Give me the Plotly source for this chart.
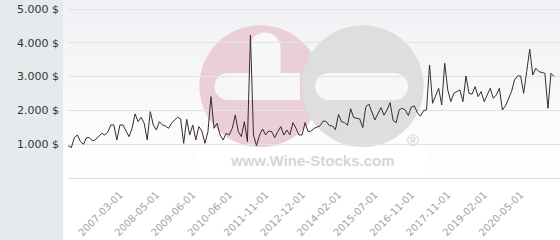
import plotly.graph_objects as go

# ---- data ----
prices = [
    957, 898, 1194, 1273, 1075, 997, 1194, 1194, 1095, 1144, 1223, 1322, 1273, 1352, 1569, 1569,
    1125, 1569, 1569, 1371, 1223, 1470, 1894, 1667, 1796, 1618, 1125, 1963, 1569, 1421, 1667, 1569,
    1539, 1470, 1618, 1720, 1796, 1746, 1026,
    1736, 1273, 1569, 1125, 1520, 1391, 1026, 1371, 2407, 1470, 1618, 1273, 1125, 1322, 1273, 1470,
    1865, 1371, 1224, 1667, 1075, 4233, 1273, 957, 1273, 1450, 1273, 1391, 1371, 1194, 1371, 1520,
    1273, 1421, 1273, 1638, 1470, 1273, 1273, 1638, 1371, 1391, 1470, 1520,
    1549, 1690, 1667, 1549, 1540, 1430, 1880, 1667, 1640, 1560, 2050, 1790, 1766, 1746, 1490, 2100,
    2190, 1950, 1717, 1900, 2080, 1860, 2013, 2230, 1700, 1640, 2020, 2062, 2013, 1850, 2100, 2131,
    1934, 1830, 1993, 2013,
    3345,
    2210, 2450, 2654, 2161, 3394, 2605, 2260, 2506, 2550, 2605, 2260, 3019, 2506, 2480, 2704, 2407,
    2556, 2260, 2457, 2654, 2358, 2457, 2654, 2013, 2131, 2358, 2556, 2901, 3019, 3019, 2506, 3150,
    3809, 3049, 3246, 3147, 3117, 3098, 2062, 3098, 3000,
]
point_index = list(range(len(prices)))

tick_labels = ["2007-03-01", "2008-05-01", "2009-06-01", "2010-06-01", "2011-11-01", "2012-12-01",
               "2014-02-01", "2015-07-01", "2016-11-01", "2017-11-01", "2019-02-01", "2020-05-01"]
tick_index = [19, 31, 43, 55, 67, 79, 91, 103, 115, 127, 139, 151]

y_ticks = [1000, 2000, 3000, 4000, 5000]
y_tick_labels = ["1.000 $", "2.000 $", "3.000 $", "4.000 $", "5.000 $"]

# ---- layout geometry ----
W, H = 560, 240
L, R, T, B = 68, 0, 0, 62
PW, PH = W - L - R, H - T - B


def fx(px):
    return (px - L) / PW


def fy(py):
    return (T + PH - py) / PH


shapes = []
# gradient background (light grey at top to white)
n = 30
top = (240, 241, 244)
bot = (255, 255, 255)
for k in range(n):
    f = (k + 0.5) / n
    c = tuple(round(top[i] + (bot[i] - top[i]) * f) for i in range(3))
    shapes.append(dict(type="rect", xref="paper", yref="paper",
                       x0=fx(63), x1=fx(560), y0=fy(PH * (k + 1) / n + 0.5), y1=fy(PH * k / n - 0.5),
                       fillcolor="rgb(%d,%d,%d)" % c, line=dict(width=0), layer="below"))
# left grey panel
shapes.append(dict(type="rect", xref="paper", yref="paper", x0=fx(0), x1=fx(63), y0=fy(240), y1=fy(0),
                   fillcolor="#e7eaed", line=dict(width=0), layer="below"))


def circ(cx, cy, r, col):
    return dict(type="circle", xref="paper", yref="paper", x0=fx(cx - r), x1=fx(cx + r),
                y0=fy(cy + r), y1=fy(cy - r), fillcolor=col, line=dict(width=0), layer="below")


def rect(x0, y0, x1, y1, col):
    return dict(type="rect", xref="paper", yref="paper", x0=fx(x0), x1=fx(x1),
                y0=fy(y1), y1=fy(y0), fillcolor=col, line=dict(width=0), layer="below")


PINK = "rgb(234,207,214)"
GREY = "rgb(222,222,223)"
HOLE = "rgb(247,247,249)"
# watermark lower white band
shapes.append(rect(197, 147, 427, 175, "rgba(255,255,255,0.9)"))
# pink circle with white plus
shapes.append(circ(260.4, 86.2, 61, PINK))
shapes.append(rect(249.5, 48, 280.5, 100, HOLE))
shapes.append(circ(265, 48, 15.5, HOLE))
shapes.append(rect(228, 73, 300, 100, HOLE))
shapes.append(circ(228, 86.5, 13.5, HOLE))
# grey circle with white minus
shapes.append(circ(362.7, 86.2, 61, GREY))
shapes.append(rect(328.5, 73, 394.5, 100, HOLE))
shapes.append(circ(328.5, 86.5, 13.5, HOLE))
shapes.append(circ(394.5, 86.5, 13.5, HOLE))

annotations = [
    dict(text="www.Wine-Stocks.com", xref="paper", yref="paper", x=fx(312), y=fy(160),
         xanchor="center", yanchor="middle", showarrow=False,
         font=dict(family="Liberation Sans, Arial, sans-serif", size=15, color="#d6d6d8", weight="bold")),
    dict(text="®", xref="paper", yref="paper", x=fx(413), y=fy(140),
         xanchor="center", yanchor="middle", showarrow=False,
         font=dict(family="Liberation Sans, Arial, sans-serif", size=16, color="#d2d2d4")),
]

fig = go.Figure()
fig.add_trace(go.Scatter(x=point_index, y=prices, mode="lines",
                         line=dict(color="#3b2930", width=1), hoverinfo="skip", showlegend=False))

x_left = -0.1
step = (554 - 68.3) / (len(prices) - 1)
x_right = x_left + PW / step

fig.update_layout(
    width=W, height=H,
    margin=dict(l=L, r=R, t=T, b=B, pad=0),
    paper_bgcolor="white",
    plot_bgcolor="rgba(0,0,0,0)",
    shapes=shapes,
    annotations=annotations,
    font=dict(family="DejaVu Sans, sans-serif"),
    xaxis=dict(range=[x_left, x_right], tickmode="array", tickvals=tick_index, ticktext=tick_labels,
               tickangle=-45, showgrid=False, zeroline=False, showline=False, ticks="",
               ticklabelstandoff=8, ticklabelshift=-6,
               tickfont=dict(size=10, color="#a2a2a4", family="DejaVu Sans, sans-serif")),
    yaxis=dict(range=[0, 178 / 33.8 * 1000], tickmode="array", tickvals=y_ticks, ticktext=y_tick_labels,
               showgrid=True, gridcolor="#e3e3e5", gridwidth=1,
               zeroline=True, zerolinecolor="#dcdcde", zerolinewidth=1, showline=False,
               ticks="", ticklabelstandoff=8,
               tickfont=dict(size=11, color="#333333", family="DejaVu Sans, sans-serif")),
)

fig.write_html("out.html")
